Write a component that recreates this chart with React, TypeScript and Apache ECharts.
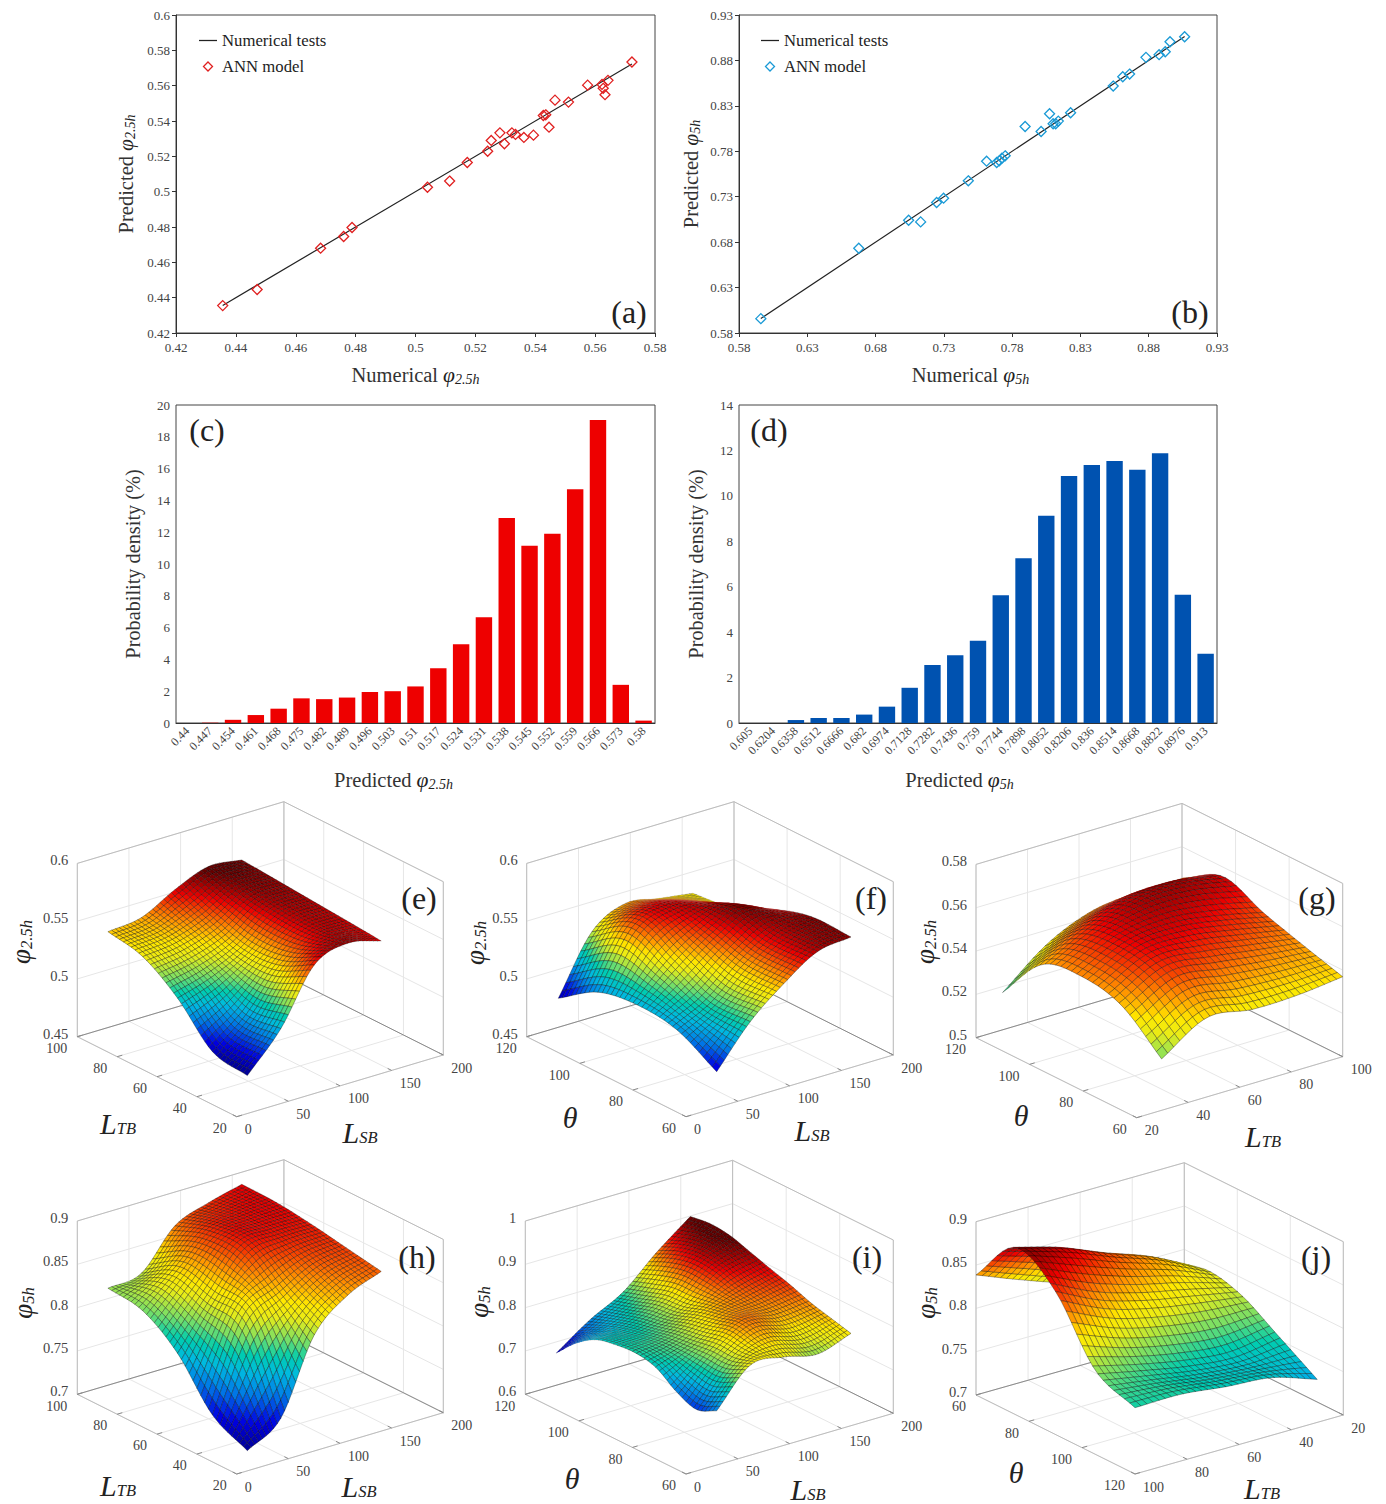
import React, { useEffect, useRef } from "react";
import * as echarts from "echarts";

// ---------- data ----------
const numericalA = [0.4356,0.4471,0.4683,0.476,0.4788,0.504,0.5114,0.5173,0.5241,0.5253,0.5282,0.5297,0.5322,0.5334,0.5362,0.5394,0.5427,0.5435,0.5446,0.5466,0.5511,0.5575,0.5623,0.5627,0.5633,0.5643,0.5723];
const predictedA = [0.4355,0.4446,0.468,0.4746,0.4797,0.5025,0.506,0.5165,0.5229,0.529,0.5333,0.5271,0.5333,0.5324,0.5307,0.532,0.5431,0.5435,0.5365,0.5518,0.5507,0.5603,0.5607,0.5585,0.5549,0.563,0.5734];
const numericalB = [0.596,0.6677,0.7042,0.713,0.7247,0.7298,0.7479,0.7613,0.7687,0.7706,0.7725,0.7749,0.7895,0.8012,0.8074,0.81,0.8119,0.8138,0.8228,0.854,0.861,0.866,0.878,0.8876,0.8921,0.8956,0.9063];
const predictedB = [0.5958,0.6733,0.7041,0.7023,0.7236,0.7284,0.7475,0.7691,0.7677,0.7695,0.7724,0.775,0.8073,0.8018,0.8213,0.8103,0.8103,0.8132,0.8224,0.8518,0.862,0.865,0.8834,0.8863,0.8896,0.9006,0.9061];
const lineA = [[0.4356,0.4356],[0.5723,0.5723]];
const lineB = [[0.596,0.596],[0.9063,0.9063]];
const ticksA = [0.42,0.44,0.46,0.48,0.5,0.52,0.54,0.56,0.58];
const ticksAY = [0.42,0.44,0.46,0.48,0.5,0.52,0.54,0.56,0.58,0.6];
const ticksB = [0.58,0.63,0.68,0.73,0.78,0.83,0.88,0.93];

const catsC = ["0.44","0.447","0.454","0.461","0.468","0.475","0.482","0.489","0.496","0.503","0.51","0.517","0.524","0.531","0.538","0.545","0.552","0.559","0.566","0.573","0.58"];
const densC = [0,0.02,0.2,0.5,0.9,1.55,1.5,1.6,1.95,2.0,2.3,3.45,4.95,6.65,12.9,11.15,11.9,14.7,19.05,2.4,0.15];
const catsD = ["0.605","0.6204","0.6358","0.6512","0.6666","0.682","0.6974","0.7128","0.7282","0.7436","0.759","0.7744","0.7898","0.8052","0.8206","0.836","0.8514","0.8668","0.8822","0.8976","0.913"];
const densD = [0,0,0.13,0.22,0.22,0.37,0.72,1.55,2.55,2.98,3.62,5.62,7.25,9.12,10.87,11.36,11.53,11.15,11.88,5.65,3.05];

// surfaces: rows go from the front corner toward the left corner, columns toward the right corner
const surfE = [
  [0.469,0.501,0.5475,0.5576,0.551],
  [0.4746,0.498,0.532,0.552,0.5535],
  [0.5057,0.515,0.53,0.553,0.5558],
  [0.5265,0.53,0.54,0.557,0.5582],
  [0.533,0.5365,0.552,0.5634,0.5605],
];
const surfF = [
  [0.481,0.5157,0.54,0.559,0.563],
  [0.4999,0.515,0.54,0.558,0.5634],
  [0.5043,0.53,0.55,0.563,0.553],
  [0.4982,0.545,0.556,0.551,0.537],
  [0.4757,0.5247,0.5406,0.5363,0.532],
];
const surfG = [
  [0.5237,0.5366,0.5342,0.5346,0.5369],
  [0.5391,0.55,0.548,0.545,0.5424],
  [0.5434,0.554,0.556,0.553,0.5483],
  [0.5399,0.551,0.558,0.559,0.5557],
  [0.5178,0.5343,0.5434,0.5457,0.546],
];
const surfH = [
  [0.705,0.731,0.8156,0.85,0.866],
  [0.726,0.82,0.845,0.866,0.873],
  [0.777,0.83,0.875,0.88,0.88],
  [0.806,0.84,0.875,0.882,0.885],
  [0.812,0.8177,0.861,0.876,0.886],
];
const surfI = [
  [0.725,0.8077,0.804,0.788,0.813],
  [0.705,0.79,0.825,0.81,0.825],
  [0.723,0.79,0.84,0.83,0.8376],
  [0.755,0.785,0.83,0.84,0.855],
  [0.7656,0.78,0.82,0.85,0.8696],
  [0.762,0.77,0.805,0.865,0.885],
  [0.751,0.76,0.8,0.87,0.9],
  [0.72,0.745,0.785,0.86,0.905],
  [0.674,0.7277,0.77,0.839,0.899],
];
const surfJ = [
  [0.7765,0.777,0.771,0.7665,0.7496],
  [0.797,0.785,0.775,0.77,0.778],
  [0.865,0.84,0.825,0.815,0.805],
  [0.893,0.878,0.857,0.8377,0.811],
  [0.8385,0.818,0.8,0.79,0.78],
];

const zTicksPhi25 = [0.45,0.5,0.55,0.6];
const zTicksPhi25G = [0.5,0.52,0.54,0.56,0.58];
const zTicksH = [0.7,0.75,0.8,0.85,0.9];
const zTicksI = [0.6,0.7,0.8,0.9,1];
const ticksLSB = [0,50,100,150,200];
const ticksLTBdown = [100,80,60,40,20];
const ticksLTBup = [20,40,60,80,100];
const ticksThetaDown = [120,100,80,60];
const ticksThetaUp = [60,80,100,120];

// ---------- layout and styles ----------
const SERIF = "Liberation Serif";
type Pt = [number, number];
interface Panel {
  tag: string; F: Pt; L: Pt; R: Pt; up: number;
  zTicks: number[]; left: number[]; right: number[];
  u: Pt; v: Pt; grid: number[][]; clim: Pt; nS: number; nT: number;
  yTitle: string; yPos: Pt; leftTitle: string; leftPos: Pt; rightTitle: string; rightPos: Pt; tagPos: Pt;
}
const phi = (s: string) => `{p|φ}{s|${s}}`;
const ell = (s: string) => `{l|L}{s|${s}}`;
const panels: Panel[] = [
  { tag: "(e)", F: [236.7,1116.7], L: [77.3,1036.7], R: [443.3,1055], up: 173.3, zTicks: zTicksPhi25, left: ticksLTBdown, right: ticksLSB, u: [0.148,0.796], v: [0.125,1], grid: surfE, clim: [0.468,0.562], nS: 36, nT: 36, yTitle: phi("2.5h"), yPos: [21,942], leftTitle: ell("TB"), leftPos: [118,1123], rightTitle: ell("SB"), rightPos: [360,1132], tagPos: [419,898] },
  { tag: "(f)", F: [686,1116.7], L: [526.7,1036.7], R: [893.3,1055], up: 173.3, zTicks: zTicksPhi25, left: ticksThetaDown, right: ticksLSB, u: [0.148,0.796], v: [0,0.994], grid: surfF, clim: [0.472,0.566], nS: 36, nT: 36, yTitle: phi("2.5h"), yPos: [475,943], leftTitle: "{l|θ}", leftPos: [570,1117], rightTitle: ell("SB"), rightPos: [812,1130], tagPos: [871,898] },
  { tag: "(g)", F: [1136.7,1117.7], L: [976,1037.7], R: [1342.7,1056.7], up: 173.3, zTicks: zTicksPhi25G, left: ticksThetaDown, right: ticksLTBup, u: [0.121,1], v: [0,0.99], grid: surfG, clim: [0.482,0.564], nS: 30, nT: 30, yTitle: phi("2.5h"), yPos: [925,942], leftTitle: "{l|θ}", leftPos: [1021,1115], rightTitle: ell("TB"), rightPos: [1263,1136], tagPos: [1317,898] },
  { tag: "(h)", F: [236.7,1474], L: [77.3,1394.3], R: [443.3,1412.7], up: 173.3, zTicks: zTicksH, left: ticksLTBdown, right: ticksLSB, u: [0.148,0.796], v: [0.125,1], grid: surfH, clim: [0.7,0.91], nS: 36, nT: 36, yTitle: phi("5h"), yPos: [23,1303], leftTitle: ell("TB"), leftPos: [118,1485], rightTitle: ell("SB"), rightPos: [359,1486], tagPos: [417,1257] },
  { tag: "(i)", F: [686,1474], L: [525.3,1394.3], R: [893.3,1413.3], up: 173.3, zTicks: zTicksI, left: ticksThetaDown, right: ticksLSB, u: [0.148,0.796], v: [0,1], grid: surfI, clim: [0.665,0.895], nS: 42, nT: 42, yTitle: phi("5h"), yPos: [479,1302], leftTitle: "{l|θ}", leftPos: [572,1478], rightTitle: ell("SB"), rightPos: [808,1489], tagPos: [867,1257] },
  { tag: "(j)", F: [1135,1474], L: [976,1395], R: [1343.3,1415], up: 173.3, zTicks: zTicksH, left: ticksThetaUp, right: [100,80,60,40,20], u: [0,0.875], v: [0,1], grid: surfJ, clim: [0.68,0.9], nS: 30, nT: 30, yTitle: phi("5h"), yPos: [926,1303], leftTitle: "{l|θ}", leftPos: [1016,1472], rightTitle: ell("TB"), rightPos: [1262,1488], tagPos: [1316,1257] },
];

// colour ramp sampled from the reference surfaces
const rampStops = [0, 0.125, 0.25, 0.35, 0.43, 0.5, 0.6, 0.66, 0.75, 0.875, 1];
const rampColors = [[0,0,130],[0,0,225],[0,120,230],[0,185,225],[0,205,175],[110,222,110],[232,236,24],[255,232,0],[255,140,0],[238,0,0],[100,0,0]];
function ramp(tIn: number) {
  const t = Math.max(0, Math.min(1, tIn));
  let k = 0;
  while (k < rampStops.length - 2 && t > rampStops[k + 1]) k++;
  const f = (t - rampStops[k]) / (rampStops[k + 1] - rampStops[k]);
  const c = rampColors[k].map((v, n) => Math.round(v + f * (rampColors[k + 1][n] - v)));
  return `rgb(${c[0]},${c[1]},${c[2]})`;
}
function cr(a: number, b: number, c: number, d: number, x: number) {
  return 0.5 * (2 * b + (c - a) * x + (2 * a - 5 * b + 4 * c - d) * x * x + (3 * b - a - 3 * c + d) * x * x * x);
}
// smooth drawing of the read grid (like a line series' smooth option)
function smoothAt(g: number[][], s: number, t: number) {
  const rows = g.length, cols = g[0].length;
  const at = (j: number, i: number) => {
    const jc = Math.max(0, Math.min(rows - 1, j)), ic = Math.max(0, Math.min(cols - 1, i));
    let v = g[jc][ic];
    if (j < 0) v = 2 * g[0][ic] - g[1][ic];
    if (j >= rows) v = 2 * g[rows - 1][ic] - g[rows - 2][ic];
    if (i < 0) v += g[jc][0] - g[jc][1];
    if (i >= cols) v += g[jc][cols - 1] - g[jc][cols - 2];
    return v;
  };
  const fx = s * (cols - 1), fy = t * (rows - 1);
  const i = Math.min(cols - 2, Math.floor(fx)), j = Math.min(rows - 2, Math.floor(fy));
  const x = fx - i, y = fy - j;
  const r = [-1, 0, 1, 2].map((d) => cr(at(j + d, i - 1), at(j + d, i), at(j + d, i + 1), at(j + d, i + 2), x));
  return cr(r[0], r[1], r[2], r[3], y);
}
function boxPoint(p: Panel, u: number, v: number, h: number): Pt {
  const x = p.F[0] + u * (p.R[0] - p.F[0]) + v * (p.L[0] - p.F[0]);
  const y = p.F[1] + u * (p.R[1] - p.F[1]) + v * (p.L[1] - p.F[1]) - h * p.up;
  return [x, y];
}
function quadArea(a: Pt, b: Pt, c: Pt, d: Pt) {
  return Math.abs((c[0] - a[0]) * (d[1] - b[1]) - (d[0] - b[0]) * (c[1] - a[1])) / 2;
}
function surfaceSeries(p: Panel) {
  const zMin = p.zTicks[0], zMax = p.zTicks[p.zTicks.length - 1];
  const mesh: { pos: Pt; z: number }[][] = [];
  for (let j = 0; j <= p.nT; j++) {
    const row: { pos: Pt; z: number }[] = [];
    for (let i = 0; i <= p.nS; i++) {
      const s = i / p.nS, t = j / p.nT;
      const z = smoothAt(p.grid, s, t);
      const u = p.u[0] + s * (p.u[1] - p.u[0]);
      const v = p.v[0] + t * (p.v[1] - p.v[0]);
      row.push({ pos: boxPoint(p, u, v, (z - zMin) / (zMax - zMin)), z });
    }
    mesh.push(row);
  }
  const cells: number[][] = [];
  for (let j = p.nT - 1; j >= 0; j--) for (let i = p.nS - 1; i >= 0; i--) cells.push([i, j]);
  return {
    type: "custom", coordinateSystem: "none", silent: true, z: 5, animation: false,
    progressive: 0, data: cells,
    renderItem: (_: any, api: any) => {
      const i = api.value(0), j = api.value(1);
      const a = mesh[j][i], b = mesh[j][i + 1], c = mesh[j + 1][i + 1], d = mesh[j + 1][i];
      const z = (a.z + b.z + c.z + d.z) / 4;
      const alpha = 0.55 * Math.min(1, quadArea(a.pos, b.pos, c.pos, d.pos) / 12);
      return {
        type: "polygon",
        shape: { points: [a.pos, b.pos, c.pos, d.pos] },
        style: { fill: ramp((z - p.clim[0]) / (p.clim[1] - p.clim[0])), stroke: `rgba(0,0,0,${alpha.toFixed(2)})`, lineWidth: 0.6 },
      };
    },
  };
}
const line3 = (a: Pt, b: Pt, stroke: string, lineWidth = 1) => ({
  type: "line", silent: true, z: 1,
  shape: { x1: a[0], y1: a[1], x2: b[0], y2: b[1] }, style: { stroke, lineWidth },
});
const richFor = (big: number, small: number, drop: number, right = 0, ell = big) => ({
  p: { fontFamily: SERIF, fontStyle: "italic", fontSize: big, fill: "#222", color: "#222" },
  l: { fontFamily: SERIF, fontStyle: "italic", fontSize: ell, fill: "#222", color: "#222" },
  t: { fontFamily: SERIF, fontSize: big - 1, fill: "#333", color: "#333", padding: [0, 5, 0, 0] },
  s: { fontFamily: SERIF, fontStyle: "italic", fontSize: small, fill: "#222", color: "#222", padding: [drop, right, 0, 0] },
});
function text3(text: string, x: number, y: number, size: number, align = "center", fill = "#444") {
  return { type: "text", silent: true, z: 6, x, y, style: { text, x: 0, y: 0, font: `${size}px "${SERIF}"`, fill, align, verticalAlign: "middle" } };
}
function panelGraphics(p: Panel) {
  const out: any[] = [];
  const G = "#e6e6e6", B = "#bdbdbd", D = "#8a8a8a";
  const zMin = p.zTicks[0], zMax = p.zTicks[p.zTicks.length - 1];
  const nl = p.left.length, nr = p.right.length;
  for (let k = 0; k < nr; k++) {
    const u = k / (nr - 1);
    out.push(line3(boxPoint(p, u, 0, 0), boxPoint(p, u, 1, 0), G));
    out.push(line3(boxPoint(p, u, 1, 0), boxPoint(p, u, 1, 1), G));
  }
  for (let k = 0; k < nl; k++) {
    const v = 1 - k / (nl - 1);
    out.push(line3(boxPoint(p, 0, v, 0), boxPoint(p, 1, v, 0), G));
    out.push(line3(boxPoint(p, 1, v, 0), boxPoint(p, 1, v, 1), G));
  }
  p.zTicks.forEach((z) => {
    const h = (z - zMin) / (zMax - zMin);
    out.push(line3(boxPoint(p, 0, 1, h), boxPoint(p, 1, 1, h), G));
    out.push(line3(boxPoint(p, 1, 1, h), boxPoint(p, 1, 0, h), G));
    const a = boxPoint(p, 0, 1, h);
    out.push(text3(String(z), a[0] - 9, a[1] - 3, 14.5, "right"));
  });
  out.push(line3(boxPoint(p, 0, 1, 0), boxPoint(p, 0, 1, 1), B));
  out.push(line3(boxPoint(p, 1, 0, 0), boxPoint(p, 1, 0, 1), B));
  out.push(line3(boxPoint(p, 1, 1, 0), boxPoint(p, 1, 1, 1), B));
  out.push(line3(boxPoint(p, 0, 1, 1), boxPoint(p, 1, 1, 1), B));
  out.push(line3(boxPoint(p, 1, 1, 1), boxPoint(p, 1, 0, 1), B));
  out.push(line3(boxPoint(p, 0, 0, 0), boxPoint(p, 0, 1, 0), B));
  out.push(line3(boxPoint(p, 0, 0, 0), boxPoint(p, 1, 0, 0), B));
  out.push(line3(boxPoint(p, 0, 1, 0), boxPoint(p, 1, 1, 0), D));
  out.push(line3(boxPoint(p, 1, 1, 0), boxPoint(p, 1, 0, 0), D));
  p.left.forEach((val, k) => {
    const v = 1 - k / (nl - 1);
    const a = boxPoint(p, 0, v, 0);
    out.push(line3(a, boxPoint(p, 0.025, v, 0), D));
    out.push(text3(String(val), a[0] - 10, a[1] + 11.7, 14, "right"));
  });
  p.right.forEach((val, k) => {
    const u = k / (nr - 1);
    const a = boxPoint(p, u, 0, 0);
    out.push(line3(a, boxPoint(p, u, 0.025, 0), D));
    out.push(text3(String(val), a[0] + 8, a[1] + 13, 14, "left"));
  });
  const rich = richFor(27, 16.5, 11, 0, 30);
  const title = (text: string, pos: Pt, rotation = 0) => ({
    type: "text", silent: true, z: 6, x: pos[0], y: pos[1], rotation,
    style: { text, rich, align: "center", verticalAlign: "middle" },
  });
  out.push(title(p.yTitle, p.yPos, Math.PI / 2));
  out.push(title(p.leftTitle, p.leftPos));
  out.push(title(p.rightTitle, p.rightPos));
  out.push(text3(p.tag, p.tagPos[0], p.tagPos[1], 32, "center", "#222"));
  return out;
}

const tickStyle = { color: "#444", fontFamily: SERIF, fontSize: 13 };
const axisCommon = {
  axisLine: { onZero: false, lineStyle: { color: "#333", width: 1 } },
  axisTick: { length: 4, lineStyle: { color: "#333" } },
  splitLine: { show: false },
};
const nameRich = (right = 0) => richFor(21.5, 14, 8, right);
function valueAxis(gridIndex: number, min: number, max: number, ticks: number[], name: string, gap: number, shift = 0, margin = 6) {
  return {
    type: "value", gridIndex, min, max, ...axisCommon,
    axisTick: { ...axisCommon.axisTick, customValues: ticks },
    axisLabel: { ...tickStyle, margin, customValues: ticks, formatter: (v: number) => String(v) },
    name, nameLocation: "middle", nameGap: gap, nameTextStyle: { rich: nameRich(shift) },
  };
}
function catAxis(gridIndex: number, data: string[], name: string, gap: number, shift = 0) {
  return {
    type: "category", gridIndex, data, ...axisCommon,
    axisLabel: { ...tickStyle, fontSize: 12, rotate: 45, interval: 0, margin: 6 },
    name, nameLocation: "middle", nameGap: gap, nameTextStyle: { rich: nameRich(shift) },
  };
}
const densityAxis = (gridIndex: number, max: number) => ({
  type: "value", gridIndex, min: 0, max, interval: 2, ...axisCommon,
  axisLabel: { ...tickStyle, margin: 6 },
  name: "Probability density (%)", nameLocation: "middle", nameGap: 33,
  nameTextStyle: { fontFamily: SERIF, fontSize: 20.3, color: "#333" },
});
const zip = (a: number[], b: number[]) => a.map((x, i) => [x, b[i]]);
const scatterSeries = (i: number, data: number[][], color: string) => ({
  name: "ANN model", type: "scatter", xAxisIndex: i, yAxisIndex: i, data, symbol: "diamond", symbolSize: 10, z: 4,
  itemStyle: { color: "rgba(255,255,255,0)", borderColor: color, borderWidth: 1.3, opacity: 1 },
});
const lineSeries = (i: number, data: number[][]) => ({
  name: "Numerical tests", type: "line", xAxisIndex: i, yAxisIndex: i, data, symbol: "none", z: 3,
  lineStyle: { color: "#222", width: 1.2 }, itemStyle: { color: "#222" },
});
const legendFor = (left: number, color: string) => ({
  left, top: 27, orient: "vertical", itemWidth: 18, itemHeight: 9, itemGap: 9, selectedMode: false,
  textStyle: { fontFamily: SERIF, fontSize: 16.7, color: "#222" },
  data: [
    { name: "Numerical tests", icon: "path://M0 0H100V7H0Z", itemStyle: { color: "#222" } },
    { name: "ANN model", icon: "path://M5 0L10 5L5 10L0 5Z", itemStyle: { color: "rgba(255,255,255,0)", borderColor: color, borderWidth: 1.3 } },
  ],
});
const bigTag = (text: string, x: number, y: number) => text3(text, x, y, 32, "center", "#222");

function buildOption() {
  return {
    animation: false,
    backgroundColor: "#fff",
    grid: [
      { left: 176, top: 15, width: 479, height: 318, show: true, borderColor: "#444", borderWidth: 1 },
      { left: 739, top: 15, width: 478, height: 318, show: true, borderColor: "#444", borderWidth: 1 },
      { left: 176, top: 405, width: 479, height: 318, show: true, borderColor: "#444", borderWidth: 1 },
      { left: 739, top: 405, width: 478, height: 318, show: true, borderColor: "#444", borderWidth: 1 },
    ],
    xAxis: [
      valueAxis(0, 0.42, 0.58, ticksA, "{t|Numerical}{p|φ}{s|2.5h}", 31, 0, 8),
      valueAxis(1, 0.58, 0.93, ticksB, "{t|Numerical}{p|φ}{s|5h}", 31, 15, 8),
      catAxis(2, catsC, "{t|Predicted}{p|φ}{s|2.5h}", 46, 44),
      catAxis(3, catsD, "{t|Predicted}{p|φ}{s|5h}", 46, 37),
    ],
    yAxis: [
      valueAxis(0, 0.42, 0.6, ticksAY, "{t|Predicted}{p|φ}{s|2.5h}", 39),
      valueAxis(1, 0.58, 0.93, ticksB, "{t|Predicted}{p|φ}{s|5h}", 37),
      densityAxis(2, 20),
      densityAxis(3, 14),
    ],
    legend: [legendFor(194, "#e02020"), legendFor(756, "#1a9ad6")],
    series: [
      lineSeries(0, lineA),
      scatterSeries(0, zip(numericalA, predictedA), "#e02020"),
      lineSeries(1, lineB),
      scatterSeries(1, zip(numericalB, predictedB), "#1a9ad6"),
      { name: "c", type: "bar", xAxisIndex: 2, yAxisIndex: 2, data: densC, barWidth: "72%", itemStyle: { color: "#ee0000" } },
      { name: "d", type: "bar", xAxisIndex: 3, yAxisIndex: 3, data: densD, barWidth: "72%", itemStyle: { color: "#0052b0" } },
      ...panels.map(surfaceSeries),
    ],
    graphic: {
      elements: [
        bigTag("(a)", 629, 312), bigTag("(b)", 1190, 312), bigTag("(c)", 207, 430), bigTag("(d)", 769, 430),
        ...panels.flatMap(panelGraphics),
      ],
    },
  };
}

export default function App() {
  const ref = useRef<HTMLDivElement>(null);
  useEffect(() => {
    const chart = echarts.init(ref.current!, undefined, { renderer: "svg" });
    chart.setOption(buildOption() as any);
    return () => chart.dispose();
  }, []);
  return <div ref={ref} style={{ position: "absolute", left: 0, top: 0, width: 1386, height: 1504, background: "#fff" }} />;
}
